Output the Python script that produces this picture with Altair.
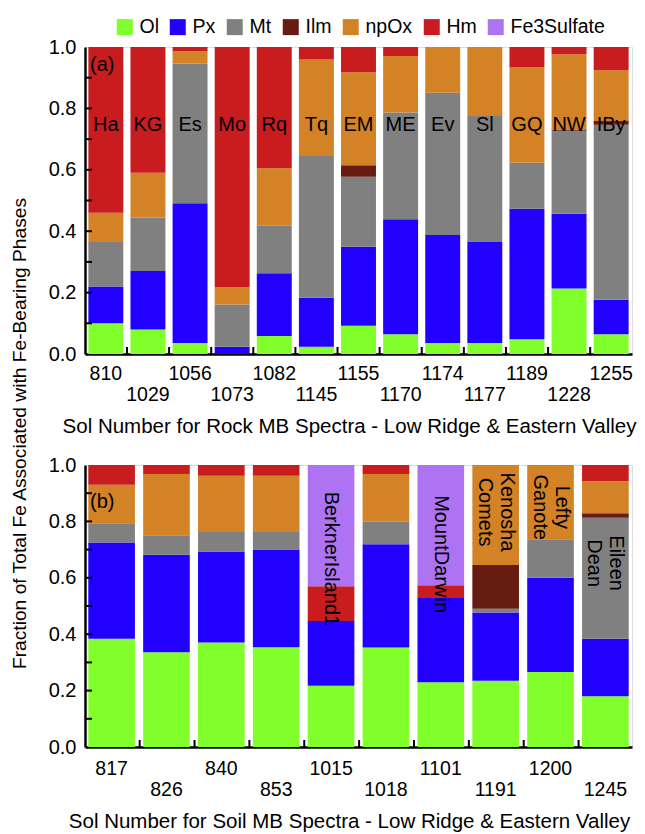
import json
import altair as alt
import pandas as pd

phases = ["Ol", "Px", "Mt", "Ilm", "npOx", "Hm", "Fe3Sulfate"]
colors = ["#80FF2A", "#2200FF", "#808080", "#661C11", "#D38225", "#C81C1E", "#AE73F2"]

# ---- Rock panel (a) ----
rock_sols = ["810", "1029", "1056", "1073", "1082", "1145", "1155", "1170", "1174", "1177", "1189", "1228", "1255"]
rock_names = ["Ha", "KG", "Es", "Mo", "Rq", "Tq", "EM", "ME", "Ev", "Sl", "GQ", "NW", "IBy"]
rock_ol = [0.10, 0.08, 0.036, 0.0, 0.059, 0.024, 0.092, 0.064, 0.036, 0.036, 0.048, 0.213, 0.064]
rock_px = [0.12, 0.19, 0.455, 0.024, 0.204, 0.159, 0.257, 0.375, 0.352, 0.329, 0.425, 0.244, 0.113]
rock_mt = [0.145, 0.175, 0.455, 0.137, 0.155, 0.462, 0.228, 0.348, 0.463, 0.41, 0.15, 0.27, 0.57]
rock_ilm = [0, 0, 0, 0, 0, 0, 0.038, 0, 0, 0, 0, 0.004, 0.012]
rock_npox = [0.095, 0.145, 0.041, 0.057, 0.187, 0.314, 0.303, 0.184, 0.149, 0.225, 0.312, 0.245, 0.165]
rock_hm = [0.54, 0.41, 0.013, 0.782, 0.395, 0.041, 0.082, 0.029, 0, 0, 0.065, 0.024, 0.076]
rock_fe3s = [0] * 13
rock_second_row = ["1029", "1073", "1145", "1170", "1177", "1228"]
rock_name_y = [0.745] * 13

# ---- Soil panel (b) ----
soil_sols = ["817", "826", "840", "853", "1015", "1018", "1101", "1191", "1200", "1245"]
soil_names = ["", "", "", "", "BerknerIsland1", "", "MountDarwin", "Kenosha\nComets", "Lefty\nGanote", "Eileen\nDean"]
soil_name_y = [0, 0, 0, 0, 0.667, 0, 0.684, 0.833, 0.85, 0.652]
soil_ol = [0.384, 0.336, 0.371, 0.354, 0.217, 0.353, 0.23, 0.235, 0.266, 0.18]
soil_px = [0.341, 0.346, 0.322, 0.346, 0.23, 0.366, 0.298, 0.242, 0.334, 0.204]
soil_mt = [0.068, 0.069, 0.069, 0.062, 0, 0.08, 0, 0.013, 0.137, 0.429]
soil_ilm = [0, 0, 0, 0, 0, 0, 0, 0.155, 0, 0.016]
soil_npox = [0.137, 0.217, 0.2, 0.2, 0, 0.169, 0, 0.355, 0.263, 0.113]
soil_hm = [0.07, 0.032, 0.038, 0.038, 0.123, 0.032, 0.046, 0, 0, 0.058]
soil_fe3s = [0, 0, 0, 0, 0.43, 0, 0.426, 0, 0, 0]
soil_second_row = ["826", "853", "1018", "1191", "1245"]

y_tick_vals = [0.1, 0.2, 0.3, 0.4, 0.5, 0.6, 0.7, 0.8, 0.9]
y_axis_vals = [0.0, 0.1, 0.2, 0.3, 0.4, 0.5, 0.6, 0.7, 0.8, 0.9, 1.0]

FONT = "Liberation Sans"
W = 547
TICK_FS = 19.5
TITLE_FS = 20.5
YTITLE_FS = 19.2
NAME_FS = 20


def long_df(sols, series):
    rows = []
    for k, (ph, vals) in enumerate(zip(phases, series)):
        for s, v in zip(sols, vals):
            if v > 0:
                rows.append({"sol": s, "phase": ph, "ord": k, "val": v})
    return pd.DataFrame(rows)


def panel(sols, series, names, name_y, second_row, height, p_in, p_out,
          xtitle, ytitle, letter, letter_y, rotated, lab_pad, lab_lh, title_pad):
    df = long_df(sols, series)
    xscale = alt.Scale(paddingInner=p_in, paddingOuter=p_out)
    label_expr = (
        "indexof(" + json.dumps(second_row) + ", datum.value) >= 0 ? ['', datum.label] : [datum.label]"
    )
    xaxis = alt.Axis(
        title=xtitle, labelAngle=0, ticks=False, labelFontSize=TICK_FS, labelPadding=lab_pad,
        labelLineHeight=lab_lh, labelBaseline="top", labelOverlap=False, labelExpr=label_expr,
        titleFontSize=TITLE_FS, titleFontWeight="normal", titlePadding=title_pad,
        titleX=264, titleAlign="center",
        domainWidth=2.5, domainColor="black", labelColor="black", titleColor="black",
        labelFont=FONT, titleFont=FONT,
    )
    yaxis_kw = dict(
        values=y_axis_vals, ticks=False, grid=False, labelFontSize=NAME_FS, labelPadding=9,
        labelExpr="round(datum.value*10) % 2 == 0 ? format(datum.value, '.1f') : ''",
        domainWidth=2.5, domainColor="black", labelColor="black", labelFont=FONT,
    )
    if ytitle:
        yaxis = alt.Axis(title=ytitle, titleFontSize=YTITLE_FS, titleFontWeight="normal",
                         titleAngle=270, titleAlign="center", titleBaseline="middle",
                         titleX=-66, titleY=-32, titleColor="black", titleFont=FONT,
                         **yaxis_kw)
    else:
        yaxis = alt.Axis(title=None, **yaxis_kw)
    yscale = alt.Scale(domain=[0, 1], nice=False)

    bars = alt.Chart(df).mark_bar().encode(
        x=alt.X("sol:N", sort=sols, scale=xscale, axis=xaxis),
        y=alt.Y("val:Q", stack="zero", scale=yscale, axis=yaxis),
        color=alt.Color(
            "phase:N",
            scale=alt.Scale(domain=phases, range=colors),
            legend=alt.Legend(
                title=None, orient="none", direction="horizontal", legendX=30, legendY=-30,
                symbolType="square", symbolSize=256, symbolStrokeWidth=0, symbolOpacity=1,
                labelFontSize=TICK_FS, labelFont=FONT, labelColor="black", labelOffset=5,
                columnPadding=9,
            ),
        ),
        order=alt.Order("ord:Q", sort="ascending"),
    )

    ndf = pd.DataFrame({"sol": sols, "name": names, "val": name_y})
    ndf = ndf[ndf["name"] != ""]
    layers = [bars]
    if rotated:
        single = ndf[~ndf["name"].str.contains("\n")]
        multi = ndf[ndf["name"].str.contains("\n")]
        for sub, dy in ((single, 0), (multi, -11)):
            layers.append(alt.Chart(sub).mark_text(
                fontSize=NAME_FS, font=FONT, color="black", angle=90, align="center",
                baseline="middle", lineBreak="\n", lineHeight=22, dy=dy
            ).encode(x=alt.X("sol:N", sort=sols), y=alt.Y("val:Q", stack=None), text="name:N"))
    else:
        layers.append(alt.Chart(ndf).mark_text(
            fontSize=NAME_FS, font=FONT, color="black", align="center", baseline="middle"
        ).encode(x=alt.X("sol:N", sort=sols), y=alt.Y("val:Q", stack=None), text="name:N"))

    ldf = pd.DataFrame({"t": [letter], "val": [letter_y]})
    layers.append(alt.Chart(ldf).mark_text(
        fontSize=NAME_FS, font=FONT, color="black", align="left", baseline="middle"
    ).encode(x=alt.value(5), y=alt.Y("val:Q", stack=None), text="t:N"))

    ytdf = pd.DataFrame({"val": y_tick_vals})
    layers.append(alt.Chart(ytdf).mark_rule(color="black", strokeWidth=2).encode(
        y=alt.Y("val:Q", stack=None), x=alt.value(0), x2=alt.value(7)))

    xtdf = pd.DataFrame({"sol": sols[1:]})
    layers.append(alt.Chart(xtdf).mark_rule(color="black", strokeWidth=2, xOffset=-3.5).encode(
        x=alt.X("sol:N", sort=sols, bandPosition=0),
        y=alt.value(height), y2=alt.value(height - 7)))

    return alt.layer(*layers).properties(width=W, height=height)


top = panel(rock_sols,
            [rock_ol, rock_px, rock_mt, rock_ilm, rock_npox, rock_hm, rock_fe3s],
            rock_names, rock_name_y, rock_second_row, 307, 0.17, 0.08,
            "Sol Number for Rock MB Spectra - Low Ridge & Eastern Valley", None,
            "(a)", 0.94, False, 10, 21, 13)

bottom = panel(soil_sols,
               [soil_ol, soil_px, soil_mt, soil_ilm, soil_npox, soil_hm, soil_fe3s],
               soil_names, soil_name_y, soil_second_row, 282, 0.15, 0.06,
               "Sol Number for Soil MB Spectra - Low Ridge & Eastern Valley",
               "Fraction of Total Fe Associated with Fe-Bearing Phases",
               "(b)", 0.87, True, 12, 21, 13)

chart = alt.vconcat(top, bottom, spacing=111, bounds="flush").properties(
    padding={"left": 1, "top": 9, "right": 0, "bottom": 0}
).configure_view(stroke="black", strokeWidth=2).configure(font=FONT)

chart.save("out.html", embed_options={"renderer": "svg", "actions": False})
